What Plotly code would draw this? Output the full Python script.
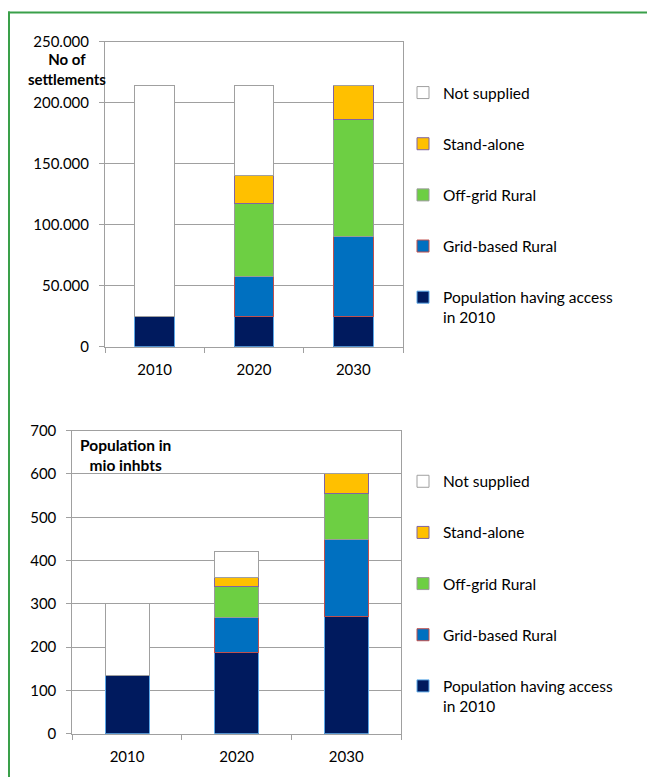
import plotly.graph_objects as go

years = ["2010", "2020", "2030"]

# Top chart: number of settlements
set_access = [25000, 25000, 25000]
set_grid = [0, 32500, 65000]
set_offgrid = [0, 60000, 96000]
set_standalone = [0, 22500, 28000]
set_notsupplied = [189000, 74000, 0]

# Bottom chart: population in mio inhabitants
pop_access = [134, 188, 270]
pop_grid = [0, 81, 179]
pop_offgrid = [0, 71, 105]
pop_standalone = [0, 22, 47]
pop_notsupplied = [166, 58, 0]

series_names = ["Population having access<br>in 2010", "Grid-based Rural",
                "Off-grid Rural", "Stand-alone", "Not supplied"]
fill_colors = ["#001A5E", "#0070C0", "#6DCF43", "#FFC000", "#FFFFFF"]
line_colors = ["#5BA7E6", "#C0504D", "#9A9A9A", "#8064A2", "#A0A0A0"]

W, H = 647, 777
FONT = "Lato"
GRID = "#A0A0A0"

def fx(px):
    return px / W

def fy(py):
    return 1 - py / H

fig = go.Figure()

top_data = [set_access, set_grid, set_offgrid, set_standalone, set_notsupplied]
bot_data = [pop_access, pop_grid, pop_offgrid, pop_standalone, pop_notsupplied]

for i, (name, vals) in enumerate(zip(series_names, top_data)):
    fig.add_trace(go.Bar(
        x=years, y=vals, name=name, xaxis="x", yaxis="y",
        width=0.4, legend="legend", legendgroup="t%d" % i,
        legendrank=100 * (5 - i),
        marker=dict(color=fill_colors[i], line=dict(color=line_colors[i], width=1)),
    ))

for i, (name, vals) in enumerate(zip(series_names, bot_data)):
    fig.add_trace(go.Bar(
        x=years, y=vals, name=name, xaxis="x2", yaxis="y2",
        width=0.4, legend="legend2", legendgroup="b%d" % i,
        legendrank=100 * (5 - i),
        marker=dict(color=fill_colors[i], line=dict(color=line_colors[i], width=1)),
    ))

axis_common = dict(
    showline=True, linecolor=GRID, linewidth=1, mirror=True,
    ticks="outside", ticklen=5, tickcolor=GRID,
    tickfont=dict(family=FONT, size=15, color="#000000"),
    automargin=False,
)

legend_common = dict(
    font=dict(family=FONT, size=15.5, color="#000000"),
    traceorder="grouped", tracegroupgap=28,
    bgcolor="rgba(0,0,0,0)", xanchor="left", yanchor="top",
    valign="top", itemclick=False,
)

fig.update_layout(
    template="none",
    width=W, height=H,
    margin=dict(l=0, r=0, t=0, b=0, pad=0, autoexpand=False),
    paper_bgcolor="#FFFFFF", plot_bgcolor="#FFFFFF",
    barmode="stack", bargap=0.6,
    separators=",.",
    showlegend=True,
    xaxis=dict(domain=[fx(105), fx(403)], anchor="y", type="category",
               tickson="boundaries", showgrid=False, ticklabelstandoff=9,
               **axis_common),
    yaxis=dict(domain=[fy(346.7), fy(41.7)], anchor="x", range=[0, 250000],
               dtick=50000, tickformat=",d", showgrid=True, gridcolor=GRID,
               gridwidth=1, zeroline=False, ticklabelstandoff=7, **axis_common),
    xaxis2=dict(domain=[fx(72.3), fx(401)], anchor="y2", type="category",
                tickson="boundaries", showgrid=False, ticklabelstandoff=9,
                **axis_common),
    yaxis2=dict(domain=[fy(733.7), fy(430.7)], anchor="x2", range=[0, 700],
                dtick=100, showgrid=True, gridcolor=GRID, gridwidth=1,
                zeroline=False, ticklabelstandoff=7, **axis_common),
    legend=dict(x=fx(403), y=fy(76), **legend_common),
    legend2=dict(x=fx(403), y=fy(464.7), **legend_common),
    annotations=[
        dict(text="<b>No of<br>settlements</b>", xref="paper", yref="paper",
             x=fx(67), y=fy(69), xanchor="center", yanchor="middle",
             showarrow=False, align="center", borderpad=0,
             font=dict(family=FONT, size=15, color="#000000")),
        dict(text="<b>Population in<br>mio inhbts</b>", xref="paper", yref="paper",
             x=fx(125.5), y=fy(455), xanchor="center", yanchor="middle",
             showarrow=False, align="center", borderpad=0,
             font=dict(family=FONT, size=15.5, color="#000000")),
    ],
    shapes=[
        dict(type="line", xref="paper", yref="paper", x0=fx(8), x1=1.01,
             y0=fy(12.5), y1=fy(12.5), line=dict(color="#3AA04A", width=2)),
        dict(type="line", xref="paper", yref="paper", x0=fx(9), x1=fx(9),
             y0=fy(11.5), y1=-0.01, line=dict(color="#3AA04A", width=2)),
    ],
)

page_fix = (
    "document.documentElement.style.margin='0';"
    "document.body.style.margin='0';"
    "document.body.style.overflow='hidden';"
)

fig.write_html(
    "out.html",
    config={"displayModeBar": False},
    post_script=page_fix,
)
